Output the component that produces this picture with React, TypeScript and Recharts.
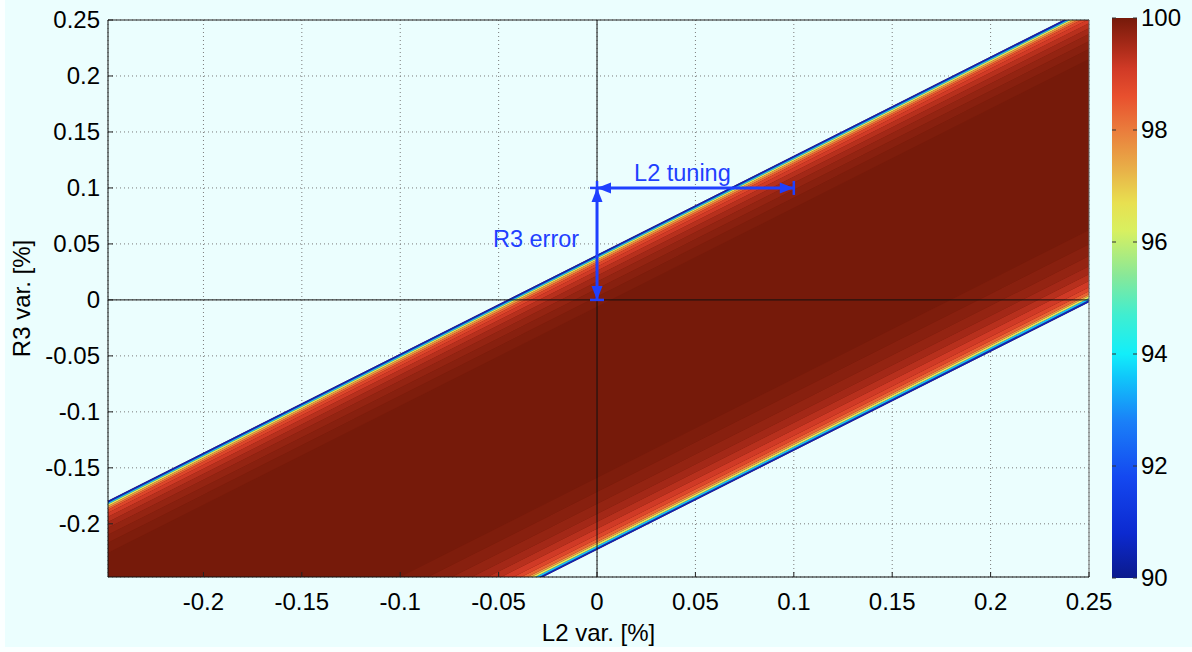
import React from 'react'
import {
  ComposedChart,
  Area,
  XAxis,
  YAxis,
  CartesianGrid,
  ReferenceLine,
  BarChart,
  Bar
} from 'recharts'

const FONT = '"Liberation Sans", Arial, Helvetica, sans-serif'
const BG = '#ebfefe'
const ANNOT = '#1f40ff'
const FS = 24

// L2 var. [%] at the two ends of the band edges
const L2_ENDS = [-0.25, 0.25]
// band edges, R3 var. [%] read at those two ends
const UPPER_EDGE = [-0.1808, 0.2615]
const LOWER_EDGE = [-0.4445, -0.002]

// colour steps going into the band: depth from the edge (R3 %) and the value there (%)
const UPPER_DEPTH = [0, 0.0018, 0.0031, 0.0045, 0.0063, 0.008, 0.0107, 0.0143, 0.0188, 0.0241, 0.0304, 0.0375, 0.0464]
const UPPER_LEVEL = [90.5, 93.5, 96.3, 97.6, 98.3, 98.8, 99.1, 99.35, 99.55, 99.7, 99.82, 99.92]
const LOWER_DEPTH = [0, 0.0018, 0.0036, 0.0054, 0.0071, 0.0098, 0.0134, 0.0188, 0.025, 0.0321, 0.0411, 0.0518, 0.0643]
const LOWER_LEVEL = [90.5, 93.5, 96.3, 97.6, 98.3, 98.8, 99.1, 99.35, 99.55, 99.7, 99.82, 99.92]
const PLATEAU = 100

const X_TICKS = [-0.2, -0.15, -0.1, -0.05, 0, 0.05, 0.1, 0.15, 0.2, 0.25]
const Y_TICKS = [-0.2, -0.15, -0.1, -0.05, 0, 0.05, 0.1, 0.15, 0.2, 0.25]
const CBAR_TICKS = [90, 92, 94, 96, 98, 100]
const CBAR_RANGE = [90, 100]

// annotations
const R3_ERROR = [{ x: 0, y: 0 }, { x: 0, y: 0.1 }]
const L2_TUNING = [{ x: 0, y: 0.1 }, { x: 0.1, y: 0.1 }]

// colour scale as drawn on the colorbar
const COLOR_STOPS: [number, string][] = [
  [90, '#0b1a8c'],
  [90.8, '#0c2ad0'],
  [91.8, '#1448f0'],
  [92.8, '#1a80f8'],
  [93.6, '#10c8fa'],
  [94, '#12eefa'],
  [94.7, '#40eed0'],
  [95.4, '#88e898'],
  [96.2, '#d8f060'],
  [96.7, '#e8e050'],
  [97.3, '#e8b048'],
  [98, '#ea7c3c'],
  [98.6, '#e8502e'],
  [99.1, '#d03a26'],
  [99.5, '#a82a18'],
  [100, '#761a0a']
]

const hexToRgb = (h: string) => [1, 3, 5].map(i => parseInt(h.slice(i, i + 2), 16))

function colorOf(v: number) {
  for (let i = 1; i < COLOR_STOPS.length; i++) {
    const [v1, c1] = COLOR_STOPS[i]
    if (v <= v1) {
      const [v0, c0] = COLOR_STOPS[i - 1]
      const t = (v - v0) / (v1 - v0)
      const a = hexToRgb(c0)
      const b = hexToRgb(c1)
      const rgb = a.map((x, k) => Math.round(x + (b[k] - x) * t))
      return `rgb(${rgb.join(',')})`
    }
  }
  return COLOR_STOPS[COLOR_STOPS.length - 1][1]
}

const rows = L2_ENDS.map((x, i) => {
  const row: any = { x, band: [LOWER_EDGE[i], UPPER_EDGE[i]] }
  UPPER_LEVEL.forEach((_, k) => {
    row[`u${k}`] = [UPPER_EDGE[i] - UPPER_DEPTH[k + 1], UPPER_EDGE[i] - UPPER_DEPTH[k]]
  })
  LOWER_LEVEL.forEach((_, k) => {
    row[`l${k}`] = [LOWER_EDGE[i] + LOWER_DEPTH[k], LOWER_EDGE[i] + LOWER_DEPTH[k + 1]]
  })
  return row
})

const cbarData = [{ name: 'c', range: CBAR_RANGE }]

const fmt = (v: number) => String(v)

function YTick({ x, y, payload }: any) {
  return (
    <g>
      <line x1={x + 8} x2={x + 13} y1={y} y2={y} stroke="#222" />
      <text x={x} y={y} dy={8} textAnchor="end" fontSize={FS} fontFamily={FONT} fill="#000">
        {fmt(payload.value)}
      </text>
    </g>
  )
}

function XTick({ x, y, payload }: any) {
  return (
    <g>
      <line x1={x} x2={x} y1={y - 8} y2={y - 13} stroke="#222" />
      <text x={x} y={y} dy={25} textAnchor="middle" fontSize={FS} fontFamily={FONT} fill="#000">
        {fmt(payload.value)}
      </text>
    </g>
  )
}

function CbarTick({ x, y, payload }: any) {
  return (
    <g>
      <line x1={x - 4} x2={x - 8} y1={y} y2={y} stroke="#333" />
      <line x1={x - 29} x2={x - 25} y1={y} y2={y} stroke="#333" />
      <text x={x} y={y} dy={8} textAnchor="start" fontSize={FS} fontFamily={FONT} fill="#000">
        {payload.value}
      </text>
    </g>
  )
}

// dimension line |<---->| with a text
function Dimension({ x1, y1, x2, y2, text, tdx, tdy }: any) {
  const dx = x2 - x1
  const dy = y2 - y1
  const len = Math.hypot(dx, dy) || 1
  const ux = dx / len
  const uy = dy / len
  const nx = -uy
  const ny = ux
  const head = (px: number, py: number, dir: number) => {
    const bx = px - dir * ux * 14
    const by = py - dir * uy * 14
    return `${px},${py} ${bx + nx * 5.5},${by + ny * 5.5} ${bx - nx * 5.5},${by - ny * 5.5}`
  }
  return (
    <g>
      <line x1={x1} y1={y1} x2={x2} y2={y2} stroke={ANNOT} strokeWidth={3} />
      <polygon points={head(x1, y1, -1)} fill={ANNOT} />
      <polygon points={head(x2, y2, 1)} fill={ANNOT} />
      <line x1={x1 + nx * 7} y1={y1 + ny * 7} x2={x1 - nx * 7} y2={y1 - ny * 7} stroke={ANNOT} strokeWidth={2.5} />
      <line x1={x2 + nx * 7} y1={y2 + ny * 7} x2={x2 - nx * 7} y2={y2 - ny * 7} stroke={ANNOT} strokeWidth={2.5} />
      <text
        x={(x1 + x2) / 2 + tdx}
        y={(y1 + y2) / 2 + tdy}
        textAnchor="middle"
        fontSize={23.5}
        fontFamily={FONT}
        fill={ANNOT}
      >
        {text}
      </text>
    </g>
  )
}

export default function App() {
  return (
    <div style={{ position: 'fixed', left: 0, top: 0, width: 1192, height: 652, background: '#fbffff' }}>
      <div style={{ position: 'absolute', left: 5, top: 0, width: 1187, height: 647, background: BG }} />
      <div style={{ position: 'absolute', left: 0, top: 0 }}>
        <ComposedChart width={1192} height={652} data={rows} margin={{ top: 20, right: 103, bottom: 0, left: 0 }}>
          <CartesianGrid stroke="#7a7a7a" strokeDasharray="1 3" />
          <XAxis
            type="number"
            dataKey="x"
            domain={[-0.2485, 0.25]}
            allowDataOverflow
            ticks={X_TICKS}
            height={75}
            tickSize={0}
            tickMargin={8}
            tickLine={false}
            tick={XTick}
            axisLine={{ stroke: '#111' }}
            label={{
              value: 'L2 var. [%]',
              position: 'insideBottom',
              offset: 11,
              fill: '#000',
              fontSize: FS,
              fontFamily: FONT
            }}
          />
          <YAxis
            type="number"
            domain={[-0.2475, 0.25]}
            allowDataOverflow
            ticks={Y_TICKS}
            width={108}
            tickSize={0}
            tickMargin={8}
            tickLine={false}
            tick={YTick}
            axisLine={{ stroke: '#111' }}
            label={{
              value: 'R3 var. [%]',
              angle: -90,
              position: 'insideLeft',
              offset: 21,
              fill: '#000',
              fontSize: FS,
              fontFamily: FONT,
              style: { textAnchor: 'middle' }
            }}
          />
          <Area
            type="linear"
            dataKey="band"
            fill={colorOf(PLATEAU)}
            fillOpacity={1}
            stroke="none"
            dot={false}
            activeDot={false}
            isAnimationActive={false}
          />
          {UPPER_LEVEL.map((v, k) => (
            <Area
              key={`u${k}`}
              type="linear"
              dataKey={`u${k}`}
              fill={colorOf(v)}
              fillOpacity={1}
              stroke="none"
              dot={false}
              activeDot={false}
              isAnimationActive={false}
            />
          ))}
          {LOWER_LEVEL.map((v, k) => (
            <Area
              key={`l${k}`}
              type="linear"
              dataKey={`l${k}`}
              fill={colorOf(v)}
              fillOpacity={1}
              stroke="none"
              dot={false}
              activeDot={false}
              isAnimationActive={false}
            />
          ))}
          <ReferenceLine x={0} stroke="#111" strokeWidth={1} />
          <ReferenceLine y={0} stroke="#111" strokeWidth={1} />
          <ReferenceLine y={0.25} stroke="#222" strokeWidth={1} />
          <ReferenceLine x={0.25} stroke="#666" strokeWidth={1} />
          <ReferenceLine
            segment={R3_ERROR}
            shape={(p: any) => <Dimension {...p} text="R3 error" tdx={-61} tdy={3} />}
          />
          <ReferenceLine
            segment={L2_TUNING}
            shape={(p: any) => <Dimension {...p} text="L2 tuning" tdx={-13} tdy={-7} />}
          />
        </ComposedChart>
      </div>
      <div style={{ position: 'absolute', left: 1100, top: 0 }}>
        <BarChart width={92} height={652} data={cbarData} margin={{ top: 18, right: 0, bottom: 74, left: 12 }} barCategoryGap={0}>
          <defs>
            <linearGradient id="jet" x1="0" y1="1" x2="0" y2="0">
              {COLOR_STOPS.map(([v, c]) => (
                <stop key={v} offset={(v - CBAR_RANGE[0]) / (CBAR_RANGE[1] - CBAR_RANGE[0])} stopColor={c} />
              ))}
            </linearGradient>
          </defs>
          <XAxis dataKey="name" hide />
          <YAxis
            orientation="right"
            type="number"
            domain={CBAR_RANGE}
            ticks={CBAR_TICKS}
            width={55}
            tickSize={0}
            tickMargin={4}
            tickLine={false}
            axisLine={false}
            tick={CbarTick}
          />
          <Bar dataKey="range" fill="url(#jet)" isAnimationActive={false} />
        </BarChart>
      </div>
    </div>
  )
}
